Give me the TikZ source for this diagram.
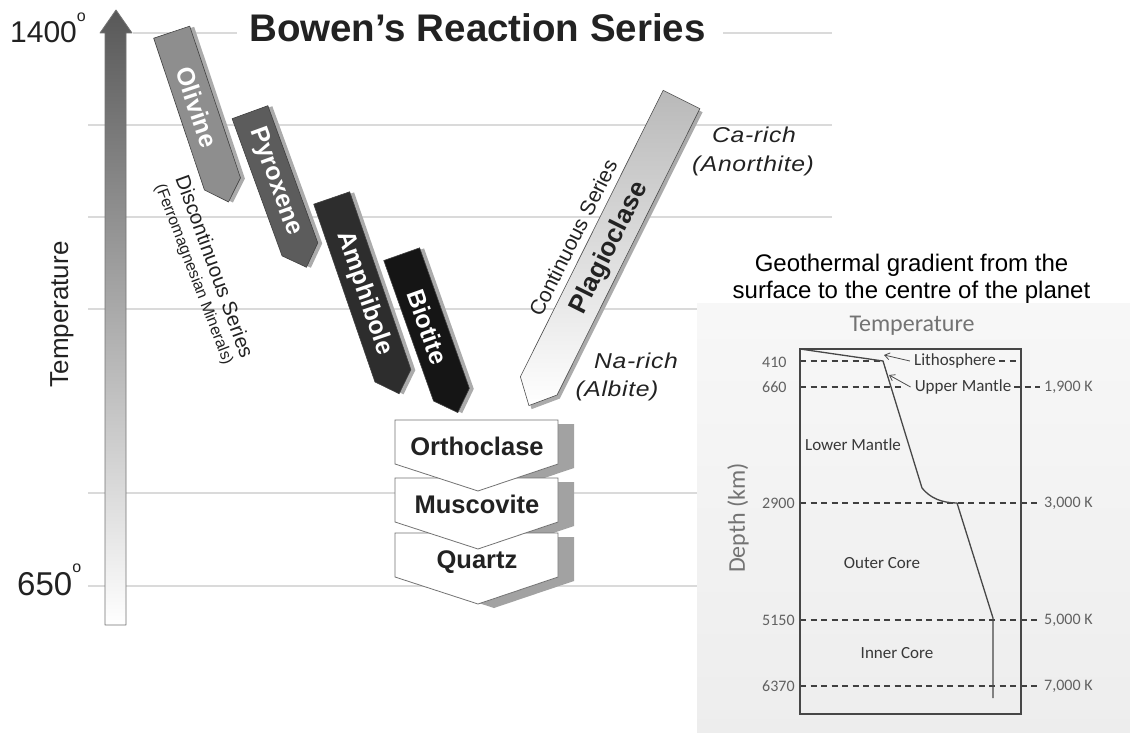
\documentclass[tikz,border=0pt]{standalone}
\usepackage{fontspec}
\setmainfont{Liberation Sans}
\newfontfamily\calib{Carlito}
\newfontfamily\itwide[FakeStretch=1.15,LetterSpace=3]{Liberation Sans Italic}
\usetikzlibrary{arrows.meta}
\newcommand{\fsz}[1]{\fontsize{#1}{#1}\selectfont}
\definecolor{gridc}{HTML}{DADADA}
\definecolor{oliv}{HTML}{8E8E8E}
\definecolor{pyro}{HTML}{5C5C5C}
\definecolor{amph}{HTML}{2D2D2D}
\definecolor{biot}{HTML}{151515}
\definecolor{shad}{HTML}{ABABAB}
\definecolor{cshad}{HTML}{A2A2A2}
\definecolor{arrtop}{HTML}{585858}
\definecolor{txt}{HTML}{222222}
% mineral bar: name, position, angle, body length, fill, label, label offset
\newcommand{\mineralbar}[7]{%
  \begin{scope}[shift={#2},rotate=#3]
    \fill[shad] (-15,2) -- (23,2) -- (23,{#4+2}) -- (4,{#4+21}) -- (-15,{#4+2}) -- cycle;
    \draw[fill=#5, draw=black!75, line width=0.6pt] (-19,0) -- (19,0) -- (19,#4) -- (0,{#4+19}) -- (-19,#4) -- cycle;
    \node[mlabel, rotate={#3-90}] (#1) at (0,#7) {#6};
  \end{scope}}
\newcommand{\chevshadow}[1]{%
  \fill[cshad] (411,{#1+4}) -- (574,{#1+4}) -- (574,{#1+48}) -- (494,{#1+75}) -- (411,{#1+48}) -- cycle;}
\newcommand{\chevface}[3]{%
  \draw[chevbox] (395,#2) -- (558,#2) -- (558,{#2+44}) -- (478,{#2+71}) -- (395,{#2+44}) -- cycle;
  \node[font=\bfseries\fsz{25.5}, text=txt, anchor=base] (#1) at (477,{#2+35}) {#3};}
\begin{document}
\begin{tikzpicture}[x=1pt,y=-1pt,
  gridline/.style={draw=gridc, line width=1.3pt},
  mlabel/.style={text=white, font=\bfseries\fsz{25}, inner sep=0pt},
  chevbox/.style={fill=white, draw=black!55, line width=0.8pt},
  dline/.style={draw=black!75, dash pattern=on 6pt off 4.5pt, line width=1.1pt},
  glab/.style={font=\calib\fsz{16}, text=black!62, inner sep=0pt},
  rlab/.style={font=\calib\fsz{17}, text=black!78, inner sep=0pt},
  garrow/.style={draw=black!70, line width=0.8pt, -{Straight Barb[length=5pt,width=7pt]}},
  itlab/.style={font=\itwide\fsz{21.5}, text=txt, inner sep=0pt},
]
\useasboundingbox (0,0) rectangle (1130,733);
\fill[white] (0,0) rectangle (1130,733);

% grid lines
\draw[gridline] (133,33) -- (237,33);
\draw[gridline] (723,33) -- (832,33);
\foreach \yy in {125,217} \draw[gridline] (88,\yy) -- (832,\yy);
\foreach \yy in {309,493,586} \draw[gridline] (88,\yy) -- (697,\yy);

% temperature arrow
\shade[top color=arrtop, middle color=gray!22, bottom color=white]
  (105,625) -- (105,33) -- (100,33) -- (116,10) -- (132,33) -- (126,33) -- (126,625) -- cycle;
\draw[draw=black!55, line width=0.8pt, line join=round]
  (105,625) -- (105,33) -- (100,33) -- (116,10) -- (132,33) -- (126,33) -- (126,625) -- cycle;

\node[font=\fsz{30}, text=txt, anchor=base west, inner sep=0pt] (t1400) at (10,43)
  {1400\raisebox{0.72em}{\fsz{16}o}};
\node[font=\fsz{33}, text=txt, anchor=base west, inner sep=0pt] (t650) at (17,595)
  {650\raisebox{0.68em}{\fsz{16}o}};
\node[font=\fsz{26}, text=txt, rotate=90, inner sep=0pt] (temp) at (62,314.5) {Temperature};

% title
\node[font=\bfseries\fsz{38.5}, text=txt, anchor=base, inner sep=0pt] (title) at (477.5,42)
  {Bowen's Reaction Series};

% series labels
\node[font=\fsz{20.5}, text=txt, rotate=-70, inner sep=0pt] (disc) at (215,266.5) {Discontinuous Series};
\node[font=\fsz{16}, text=txt, rotate=-69, inner sep=0pt] (ferro) at (193.5,274.5) {(Ferromagnesian Minerals)};

% discontinuous branch
\mineralbar{olivine}{(171.7,32.2)}{18.5}{160}{oliv}{Olivine}{79}
\mineralbar{pyroxene}{(250,112.2)}{20}{146}{pyro}{Pyroxene}{74}
\mineralbar{amphibole}{(331.7,198)}{19}{188}{amph}{Amphibole}{101}
\mineralbar{biotite}{(401.7,254.2)}{19.5}{149}{biot}{Biotite}{77}

% continuous branch
\begin{scope}[shift={(681.5,99.5)},rotate=-26.5]
  \fill[shad] (-16.5,2) -- (24.5,2) -- (24.5,322) -- (4,344) -- (-16.5,322) -- cycle;
  \shade[top color=gray!55, middle color=white, bottom color=white]
    (-20.5,0) -- (20.5,0) -- (20.5,320) -- (0,342) -- (-20.5,320) -- cycle;
  \draw[draw=black!70, line width=0.6pt]
    (-20.5,0) -- (20.5,0) -- (20.5,320) -- (0,342) -- (-20.5,320) -- cycle;
  \node[font=\bfseries\fsz{26}, text=txt, rotate=63.5, inner sep=0pt] (plag) at (2,165) {Plagioclase};
  \node[font=\fsz{21}, text=txt, rotate=63.5, anchor=base, inner sep=0pt] (cont) at (-28,172) {Continuous Series};
\end{scope}

\node[itlab] (carich) at (754,135) {Ca-rich};
\node[itlab] (anor) at (753,166) {(Anorthite)};
\node[itlab] (narich) at (636,361) {Na-rich};
\node[itlab] (albite) at (617,391) {(Albite)};

% felsic minerals
\chevshadow{533}
\chevshadow{478}
\chevshadow{420}
\chevface{quartz}{533}{Quartz}
\chevface{muscovite}{478}{Muscovite}
\chevface{orthoclase}{420}{Orthoclase}

% geothermal gradient panel
\shade[top color=gray!6, bottom color=gray!14] (697,303) rectangle (1130,733);
\node[font=\fontsize{24}{27}\selectfont, text=black, align=center, inner sep=0pt] (gtitle) at (911.5,278.5)
  {Geothermal gradient from the\\surface to the centre of the planet};
\node[font=\calib\fsz{24}, text=black!55, inner sep=0pt] (gtemp) at (912,326) {Temperature};
\node[font=\calib\fsz{24}, text=black!55, rotate=90, inner sep=0pt] (depth) at (738,518) {Depth (km)};

\draw[dline] (800,361) -- (881,361);
\draw[dline] (999,361) -- (1020,361);
\draw[dline] (800,387) -- (905,387);
\draw[dline] (1014,387) -- (1040,387);
\draw[dline] (800,503) -- (1040,503);
\draw[dline] (800,620) -- (1040,620);
\draw[dline] (800,686) -- (1040,686);

\draw[line width=1.4pt, draw=black!72] (800,349) rectangle (1021,714);

\node[glab, anchor=west] (d410) at (762,362) {410};
\node[glab, anchor=west] (d660) at (762,387) {660};
\node[glab, anchor=west] (d2900) at (762,503) {2900};
\node[glab, anchor=west] (d5150) at (762,620) {5150};
\node[glab, anchor=west] (d6370) at (762,686) {6370};
\node[glab, anchor=west] (k1900) at (1044,387) {1,900 K};
\node[glab, anchor=west] (k3000) at (1044,503) {3,000 K};
\node[glab, anchor=west] (k5000) at (1044,620) {5,000 K};
\node[glab, anchor=west] (k7000) at (1044,686) {7,000 K};

\draw[line width=1.3pt, draw=black!72, line join=round]
  (800,349) -- (883,361) -- (922,488) .. controls (930,498) and (942,503) .. (957,503) -- (993,618) -- (993,698);

\node[rlab] (litho) at (955,361) {Lithosphere};
\node[rlab] (upper) at (963,387) {Upper Mantle};
\node[rlab] (lower) at (853,445) {Lower Mantle};
\node[rlab] (outer) at (882,563) {Outer Core};
\node[rlab] (inner) at (897,653) {Inner Core};

\coordinate (plitho) at (884,355);
\coordinate (pupper) at (889,375);
\draw[garrow] ([xshift=-4pt]litho.west) -- (plitho);
\draw[garrow] ([xshift=-4pt]upper.west) -- (pupper);
\end{tikzpicture}
\end{document}
